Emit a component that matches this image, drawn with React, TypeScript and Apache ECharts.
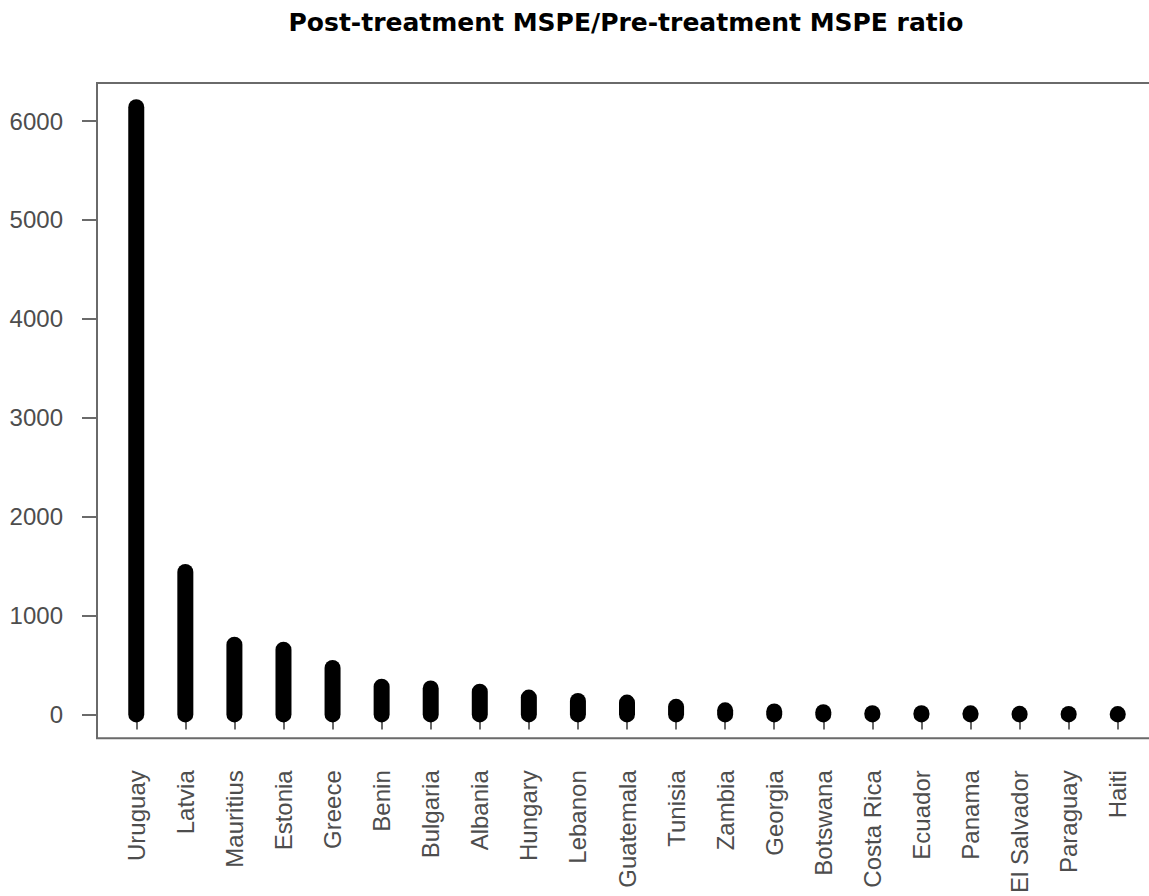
import React, { useEffect, useRef } from "react";
import * as echarts from "echarts";

const countries = [
  "Uruguay", "Latvia", "Mauritius", "Estonia", "Greece", "Benin", "Bulgaria",
  "Albania", "Hungary", "Lebanon", "Guatemala", "Tunisia", "Zambia", "Georgia",
  "Botswana", "Costa Rica", "Ecuador", "Panama", "El Salvador", "Paraguay", "Haiti",
];
const ratios = [
  6140, 1440, 705, 655, 470, 280, 262, 230, 170, 137, 120, 77, 42, 30, 22, 13, 12,
  11, 6, 5, 4,
];
const yTicks = [0, 1000, 2000, 3000, 4000, 5000, 6000];
const xTicks = countries.map((_, i) => i + 1);
const title = "Post-treatment MSPE/Pre-treatment MSPE ratio";

export default function App() {
  const ref = useRef<HTMLDivElement>(null);
  useEffect(() => {
    if (!ref.current) return;
    const chart = echarts.init(ref.current, null, { renderer: "svg" });
    const axisColor = "#6a6a6a";
    const labelColor = "#4d4d4d";
    chart.setOption({
      animation: false,
      backgroundColor: "#ffffff",
      graphic: [
        {
          type: "text",
          x: 626,
          y: 10,
          style: {
            text: title,
            font: "bold 25px 'DejaVu Sans', Arial, sans-serif",
            fill: "#000000",
            textAlign: "center",
            align: "center",
            textVerticalAlign: "top",
            verticalAlign: "top",
          },
        },
      ],
      grid: {
        left: 97,
        top: 83,
        right: 3,
        bottom: 153,
        show: true,
        borderColor: axisColor,
        borderWidth: 2,
        containLabel: false,
      },
      xAxis: {
        type: "value",
        min: 0.2,
        max: 21.8,
        axisLine: { show: false },
        splitLine: { show: false },
        axisTick: {
          show: true,
          length: 15,
          customValues: xTicks,
          lineStyle: { color: axisColor, width: 2 },
        },
        axisLabel: {
          show: true,
          customValues: xTicks,
          rotate: 90,
          margin: 32,
          color: labelColor,
          fontSize: 24,
          fontFamily: "'Liberation Sans', Arial, sans-serif",
          formatter: (v: number) => countries[Math.round(v) - 1] ?? "",
        },
      },
      yAxis: {
        type: "value",
        min: -241,
        max: 6385,
        axisLine: { show: false },
        splitLine: { show: false },
        axisTick: {
          show: true,
          length: 15,
          customValues: yTicks,
          lineStyle: { color: axisColor, width: 2 },
        },
        axisLabel: {
          show: true,
          customValues: yTicks,
          margin: 34,
          color: labelColor,
          fontSize: 24,
          fontFamily: "'Liberation Sans', Arial, sans-serif",
          formatter: (v: number) => String(Math.round(v)),
        },
      },
      series: [
        {
          type: "custom",
          data: ratios.map((v, i) => [i + 1, v]),
          renderItem: (params: any, api: any) => {
            const x = api.value(0);
            const v = api.value(1);
            const p0 = api.coord([x, 0]);
            const p1 = api.coord([x, v]);
            return {
              type: "line",
              shape: { x1: p0[0], y1: p0[1], x2: p1[0], y2: p1[1] },
              style: { stroke: "#000000", lineWidth: 16, lineCap: "round" },
            };
          },
        },
      ],
    });
    return () => chart.dispose();
  }, []);
  return (
    <div
      ref={ref}
      style={{ position: "fixed", left: 0, top: 0, width: 1160, height: 896, background: "#fff" }}
    />
  );
}
